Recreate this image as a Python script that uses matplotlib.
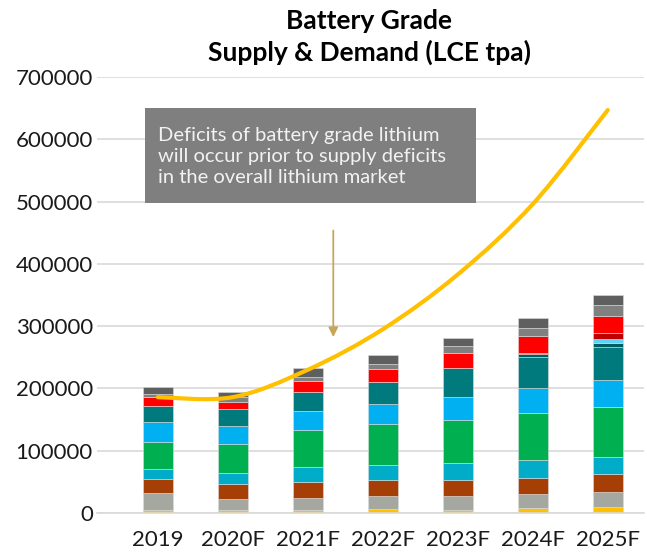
import numpy as np
import matplotlib
matplotlib.use("Agg")
from matplotlib import pyplot as plt
from matplotlib.path import Path
from matplotlib.patches import PathPatch, Rectangle

plt.rcParams['font.family'] = ['Lato', 'DejaVu Sans']

years = ['2019', '2020F', '2021F', '2022F', '2023F', '2024F', '2025F']

# supply by source, bottom to top (LCE tpa)
supply_yellow = [5000, 5000, 5500, 7000, 5500, 7500, 9000]
supply_beige = [27000, 17500, 19000, 20000, 22000, 23000, 25000]
supply_brown = [22500, 23500, 25000, 26000, 26000, 26500, 28500]
supply_cyan = [16000, 17500, 24000, 24500, 26500, 28500, 28000]
supply_green = [43000, 48000, 60000, 65000, 69500, 75000, 79000]
supply_lightblue = [32000, 28000, 31000, 33000, 36000, 40000, 44000]
supply_teal = [27000, 27000, 29500, 35000, 47000, 50000, 52500]
supply_darkteal = [0, 0, 0, 0, 0, 4000, 7000]
supply_sky = [0, 0, 0, 0, 0, 0, 6500]
supply_darkred = [0, 0, 0, 0, 0, 2500, 9500]
supply_red = [13000, 11000, 17500, 21000, 25000, 27000, 28000]
supply_gray = [6000, 9000, 6500, 7000, 10500, 13500, 17000]
supply_darkgray = [11000, 8500, 14500, 14500, 13500, 15000, 16000]

demand = [186000, 186000, 230000, 295000, 383000, 496000, 647000]

yticks = [0, 100000, 200000, 300000, 400000, 500000, 600000, 700000]

layers = [
    (supply_yellow, '#FFC000'),
    (supply_beige, '#A5A8A0'),
    (supply_brown, '#A63F05'),
    (supply_cyan, '#00ACC8'),
    (supply_green, '#00B050'),
    (supply_lightblue, '#00B0F0'),
    (supply_teal, '#007A7C'),
    (supply_darkteal, '#005E63'),
    (supply_sky, '#5FD3F5'),
    (supply_darkred, '#C00000'),
    (supply_red, '#FF0000'),
    (supply_gray, '#808080'),
    (supply_darkgray, '#5F5F5F'),
]

fig = plt.figure(figsize=(6.47, 5.56), dpi=100)
ax = fig.add_axes([0.150, 0.0773, 0.845, 0.7842])

x = np.arange(len(years))
bottom = np.zeros(len(years))
for vals, col in layers:
    vals = np.array(vals, dtype=float)
    ax.bar(x, vals, width=0.40, bottom=bottom, color=col,
           edgecolor='#dcdcdc', linewidth=0.4, zorder=2)
    bottom += vals

# smoothed demand line (catmull-rom -> bezier, like excel)
pts = np.column_stack([x, demand]).astype(float)
verts = [pts[0]]
codes = [Path.MOVETO]
for i in range(len(pts) - 1):
    p0 = pts[i - 1] if i > 0 else pts[i]
    p1 = pts[i]
    p2 = pts[i + 1]
    p3 = pts[i + 2] if i + 2 < len(pts) else pts[i + 1]
    c1 = p1 + (p2 - p0) / 6
    c2 = p2 - (p3 - p1) / 6
    verts += [c1, c2, p2]
    codes += [Path.CURVE4] * 3
ax.add_patch(PathPatch(Path(verts, codes), facecolor='none',
                       edgecolor='#FFC000', linewidth=3, zorder=3,
                       capstyle='round'))

ax.set_xlim(-0.81, 6.48)
ax.set_ylim(0, 700000)
ax.set_yticks(yticks)
ax.set_yticklabels([str(v) for v in yticks], fontsize=16, color='#1a1a1a')
ax.set_xticks(x)
ax.set_xticklabels(years, fontsize=16, color='#1a1a1a')
ax.tick_params(axis='y', length=0, pad=3)
ax.tick_params(axis='x', length=0, pad=12)
ax.grid(axis='y', color='#d9d9d9', linewidth=1.2, zorder=0)
ax.set_axisbelow(True)
for s in ['top', 'right', 'left']:
    ax.spines[s].set_visible(False)
ax.spines['bottom'].set_color('#d9d9d9')
ax.spines['bottom'].set_linewidth(1.2)

# callout box
ax.add_patch(Rectangle((-0.17, 497600), 4.41, 152400, facecolor='#7F7F7F',
                       edgecolor='none', zorder=4))
ax.text(0.0, 572000,
        "Deficits of battery grade lithium\nwill occur prior to supply deficits\nin the overall lithium market",
        fontsize=14.5, color='#F2F2F2', va='center', ha='left',
        linespacing=1.3, zorder=5)
ax.annotate('', xy=(2.34, 278000), xytext=(2.34, 458000),
            arrowprops=dict(arrowstyle='-|>', color='#C9A55A', lw=1.3,
                            mutation_scale=14), zorder=5)

fig.text(0.571, 0.963, "Battery Grade", ha='center', va='center',
         fontsize=19, fontweight='bold', color='black')
fig.text(0.571, 0.905, "Supply & Demand (LCE tpa)", ha='center', va='center',
         fontsize=19, fontweight='bold', color='black')

fig.savefig('out.png', dpi=100)
